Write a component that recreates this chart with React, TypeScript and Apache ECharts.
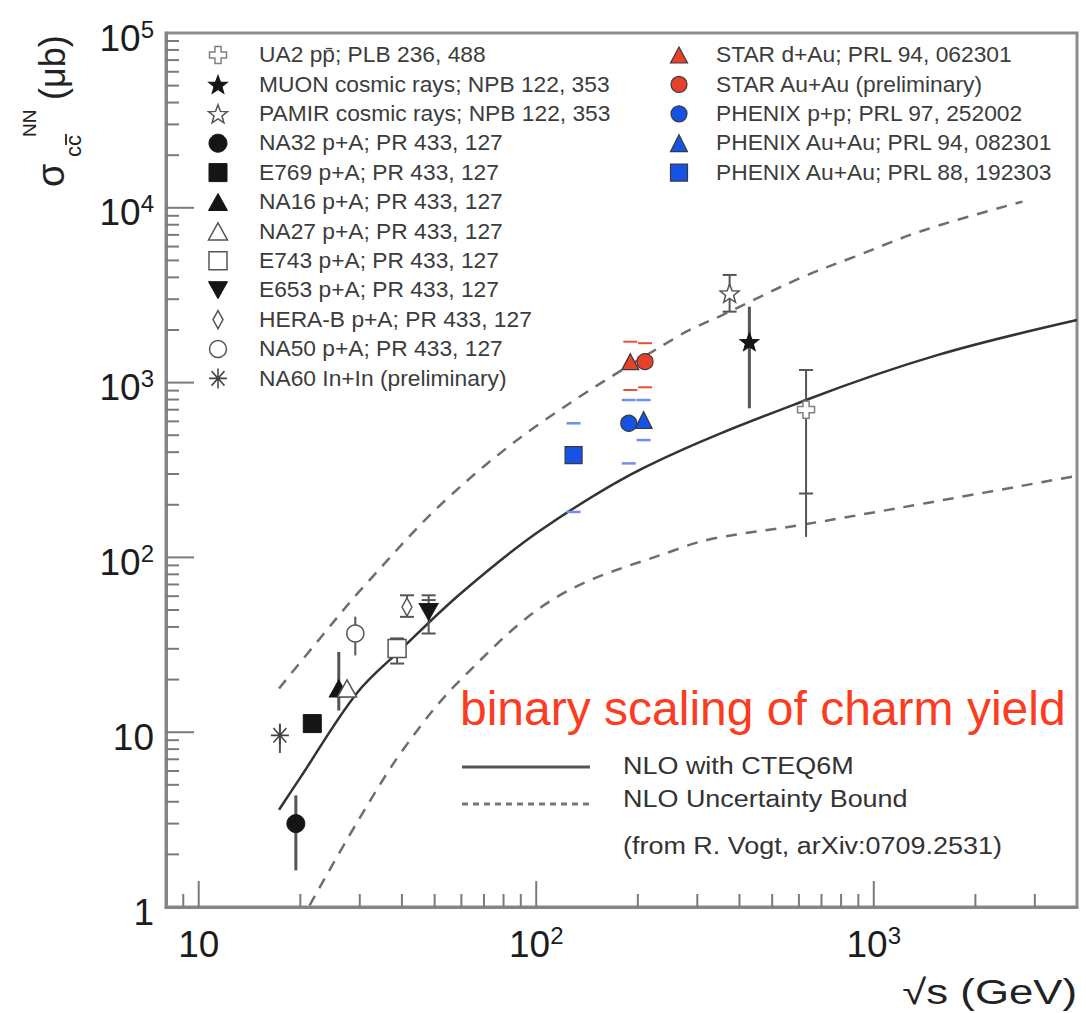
import React, { useEffect, useRef } from 'react';
import * as echarts from 'echarts';

const FONT = '"Liberation Sans", Arial, Helvetica, sans-serif';

// ---- axis ranges and tick positions ----
const xRange = [8, 4000];
const yRange = [1, 100000];
const xMajorTicks = [10, 100, 1000];
const xMinorTicks = [9, 20, 30, 40, 50, 60, 70, 80, 90, 200, 300, 400, 500, 600, 700, 800, 900, 2000, 3000];
const yMajorTicks = [10, 100, 1000, 10000];
const yDecades = [1, 10, 100, 1000, 10000];
const yMantissas = [2, 3, 4, 5, 6, 7, 8, 9];

// ---- NLO calculation (√s in GeV, σ in μb) ----
const nloEnergy = [17.3, 20, 29.4, 39.5, 59.6, 103, 211, 630, 1550, 4000];
const nloCentral = [3.6, 5.5, 16.7, 29.4, 62, 143, 330, 795, 1440, 2280];
const upperEnergy = [17.3, 22.9, 30.8, 54.2, 102.8, 267, 351, 604, 879, 1416, 2758];
const upperBound = [17.8, 34.5, 68, 215, 585, 1872, 2404, 3955, 5260, 7470, 10850];
const lowerEnergy = [21.3, 29.5, 40.6, 59.6, 115, 267, 341, 604, 1439, 4000];
const lowerBound = [1.02, 3.06, 8.1, 19.9, 59.3, 113, 129, 153, 205, 293];

// ---- measurements: [√s, σ] ----
const ua2 = [[630, 700]];
const muon = [[428, 1714]];
const pamir = [[374, 3245]];
const na32 = [[19.4, 3.0]];
const e769 = [[21.7, 11.2]];
const na16 = [[26.0, 17.8]];
const na27 = [[27.5, 17.8]];
const e743 = [[38.7, 30.1]];
const e653 = [[48, 48.8]];
const heraB = [[41.4, 52]];
const na50 = [[29.1, 36.7]];
const na60 = [[17.4, 9.6]];
const starDAu = [[190, 1318]];
const starAuAu = [[210, 1318]];
const phenixPP = [[188, 585]];
const phenixAuAu94 = [[208, 611]];
const phenixAuAu88 = [[129, 385]];

// ---- uncertainties: [√s, low, high] ----
const na32Bar = [[19.4, 1.62, 4.35]];
const na16Bar = [[26.0, 13.3, 28.8]];
const muonBar = [[428, 713, 2718]];
const na60Bar = [[17.4, 7.6, 11.2]];
const na50Bar = [[29.1, 27.5, 45.8]];
const e743Bar = [[38.7, 24.7, 34.4]];
const heraBBar = [[41.4, 45.7, 60.7]];
const e653Bar = [[48, 36.7, 60.7]];
const pamirBar = [[374, 2546, 4130]];
const ua2Bar = [[630, 131, 1181]];

// ---- end markers: [√s, σ] ----
const e743Caps = [[38.7, 24.7], [38.7, 34.4]];
const e653Caps = [[48, 36.7], [48, 57], [48, 60.7]];
const heraBCaps = [[41.4, 45.7], [41.4, 60.7]];
const pamirCaps = [[374, 2546], [374, 4130]];
const ua2Caps = [[630, 232], [630, 1181]];
const starDAuCaps = [[190, 907], [190, 1714]];
const starAuAuCaps = [[210, 940], [210, 1680]];
const phenixPPCaps = [[188, 345], [188, 795]];
const phenixAuAu94Caps = [[208, 469], [208, 795]];
const phenixAuAu88Caps = [[129, 182], [129, 585]];

// ---- legend texts ----
const leftLegendKeys = ['ua2', 'muon', 'pamir', 'na32', 'e769', 'na16', 'na27', 'e743', 'e653', 'heraB', 'na50', 'na60'];
const rightLegendKeys = ['starDAu', 'starAuAu', 'phenixPP', 'phenixAuAu94', 'phenixAuAu88'];
const labels: Record<string, string> = {
  ua2: 'UA2 pp\u0304; PLB 236, 488',
  muon: 'MUON cosmic rays; NPB 122, 353',
  pamir: 'PAMIR cosmic rays; NPB 122, 353',
  na32: 'NA32 p+A; PR 433, 127',
  e769: 'E769 p+A; PR 433, 127',
  na16: 'NA16 p+A; PR 433, 127',
  na27: 'NA27 p+A; PR 433, 127',
  e743: 'E743 p+A; PR 433, 127',
  e653: 'E653 p+A; PR 433, 127',
  heraB: 'HERA-B p+A; PR 433, 127',
  na50: 'NA50 p+A; PR 433, 127',
  na60: 'NA60 In+In (preliminary)',
  starDAu: 'STAR d+Au; PRL 94, 062301',
  starAuAu: 'STAR Au+Au (preliminary)',
  phenixPP: 'PHENIX p+p; PRL 97, 252002',
  phenixAuAu94: 'PHENIX Au+Au; PRL 94, 082301',
  phenixAuAu88: 'PHENIX Au+Au; PRL 88, 192303',
};
const points: Record<string, number[][]> = {
  ua2, muon, pamir, na32, e769, na16, na27, e743, e653, heraB, na50, na60,
  starDAu, starAuAu, phenixPP, phenixAuAu94, phenixAuAu88,
};

// ---- marker shapes ----
const STAR_D = (() => {
  const pts: number[][] = [];
  for (let k = 0; k < 10; k++) {
    const a = -Math.PI / 2 + (k * Math.PI) / 5;
    const r = k % 2 === 0 ? 1 : 0.42;
    pts.push([Math.cos(a) * r, Math.sin(a) * r]);
  }
  const xs = pts.map((p) => p[0]);
  const ys = pts.map((p) => p[1]);
  const x0 = Math.min(...xs), x1 = Math.max(...xs), y0 = Math.min(...ys), y1 = Math.max(...ys);
  return (
    pts
      .map((p, i) => `${i ? 'L' : 'M'}${(((p[0] - x0) / (x1 - x0)) * 100).toFixed(2)} ${(((p[1] - y0) / (y1 - y0)) * 100).toFixed(2)}`)
      .join(' ') + ' Z'
  );
})();
const PLUS_D = 'M32 0 L68 0 L68 32 L100 32 L100 68 L68 68 L68 100 L32 100 L32 68 L0 68 L0 32 L32 32 Z';
const AST_D = 'M50 0 L50 100 M0 50 L100 50 M14 14 L86 86 M86 14 L14 86';
const TRI_DOWN_D = 'M0 0 L100 0 L50 100 Z';

echarts.graphic.registerShape('mkStar', echarts.graphic.extendPath(STAR_D, {}));
echarts.graphic.registerShape('mkPlus', echarts.graphic.extendPath(PLUS_D, {}));
echarts.graphic.registerShape('mkAst', echarts.graphic.extendPath(AST_D, {}));

type Kind = 'circle' | 'rect' | 'triangle' | 'triDown' | 'diamond' | 'star' | 'plus' | 'asterisk';
interface Marker { kind: Kind; w: number; h: number; fill: string; stroke: string; lw: number }

const RED = '#e8412a';
const BLUE = '#1652e6';
const INK = '#151515';
const OPEN = '#ffffff';
const EDGE = '#3a3a3a';

const markers: Record<string, Marker> = {
  ua2: { kind: 'plus', w: 17, h: 17, fill: OPEN, stroke: '#808080', lw: 1.5 },
  muon: { kind: 'star', w: 19, h: 18, fill: INK, stroke: INK, lw: 1 },
  pamir: { kind: 'star', w: 19, h: 18, fill: OPEN, stroke: '#555', lw: 1.5 },
  na32: { kind: 'circle', w: 18, h: 18, fill: INK, stroke: INK, lw: 1 },
  e769: { kind: 'rect', w: 18, h: 18, fill: INK, stroke: INK, lw: 1 },
  na16: { kind: 'triangle', w: 19, h: 17, fill: INK, stroke: INK, lw: 1 },
  na27: { kind: 'triangle', w: 19, h: 17, fill: OPEN, stroke: '#555', lw: 1.5 },
  e743: { kind: 'rect', w: 18, h: 18, fill: OPEN, stroke: '#555', lw: 1.5 },
  e653: { kind: 'triDown', w: 19, h: 17, fill: INK, stroke: INK, lw: 1 },
  heraB: { kind: 'diamond', w: 10, h: 18, fill: OPEN, stroke: '#555', lw: 1.5 },
  na50: { kind: 'circle', w: 17, h: 17, fill: OPEN, stroke: '#555', lw: 1.5 },
  na60: { kind: 'asterisk', w: 18, h: 20, fill: 'rgba(0,0,0,0)', stroke: '#444', lw: 1.6 },
  starDAu: { kind: 'triangle', w: 17, h: 16, fill: RED, stroke: EDGE, lw: 1.2 },
  starAuAu: { kind: 'circle', w: 16, h: 16, fill: RED, stroke: EDGE, lw: 1.2 },
  phenixPP: { kind: 'circle', w: 16, h: 16, fill: BLUE, stroke: EDGE, lw: 1.2 },
  phenixAuAu94: { kind: 'triangle', w: 17, h: 17, fill: BLUE, stroke: EDGE, lw: 1.2 },
  phenixAuAu88: { kind: 'rect', w: 17, h: 17, fill: BLUE, stroke: EDGE, lw: 1.2 },
};

const SYMBOL: Record<Kind, string> = {
  circle: 'circle',
  rect: 'rect',
  triangle: 'triangle',
  diamond: 'diamond',
  triDown: 'path://' + TRI_DOWN_D,
  star: 'path://' + STAR_D,
  plus: 'path://' + PLUS_D,
  asterisk: 'path://' + AST_D,
};

function legendSymbol(m: Marker, cx: number, cy: number): any {
  const { w, h } = m;
  const style: any = { fill: m.fill, stroke: m.stroke, lineWidth: m.lw };
  switch (m.kind) {
    case 'circle':
      return { type: 'ellipse', shape: { cx, cy, rx: w / 2, ry: h / 2 }, style };
    case 'rect':
      return { type: 'rect', shape: { x: cx - w / 2, y: cy - h / 2, width: w, height: h }, style };
    case 'triangle':
      return { type: 'polygon', shape: { points: [[cx, cy - h / 2], [cx + w / 2, cy + h / 2], [cx - w / 2, cy + h / 2]] }, style };
    case 'triDown':
      return { type: 'polygon', shape: { points: [[cx - w / 2, cy - h / 2], [cx + w / 2, cy - h / 2], [cx, cy + h / 2]] }, style };
    case 'diamond':
      return { type: 'polygon', shape: { points: [[cx, cy - h / 2], [cx + w / 2, cy], [cx, cy + h / 2], [cx - w / 2, cy]] }, style };
    default: {
      const type = m.kind === 'star' ? 'mkStar' : m.kind === 'plus' ? 'mkPlus' : 'mkAst';
      return {
        type,
        x: cx - w / 2,
        y: cy - h / 2,
        scaleX: w / 100,
        scaleY: h / 100,
        style: { ...style, strokeNoScale: true },
      };
    }
  }
}

// "10", "10²" ... with a raised exponent
function powerLabel(v: number): string {
  const e = Math.log10(v);
  const n = Math.round(e);
  if (Math.abs(e - n) > 1e-6) return '';
  if (n === 0) return '{b|1}';
  if (n === 1) return '{b|10}';
  return `{b|10}{s|${n}}`;
}

const labelRich = {
  b: { fontSize: 37, lineHeight: 52, padding: [10, 0, 0, 0], fontFamily: FONT, color: '#1c1c1c' },
  s: { fontSize: 24, lineHeight: 24, padding: [10, 0, 0, 0], verticalAlign: 'top', fontFamily: FONT, color: '#1c1c1c' },
};

function barSeries(data: number[][], color: string, width: number): any {
  return {
    type: 'custom',
    coordinateSystem: 'cartesian2d',
    silent: true,
    z: 2,
    data,
    encode: { x: 0, y: [1, 2] },
    renderItem: (_p: any, api: any) => {
      const x = api.value(0);
      const a = api.coord([x, api.value(1)]);
      const b = api.coord([x, api.value(2)]);
      return {
        type: 'line',
        shape: { x1: a[0], y1: a[1], x2: b[0], y2: b[1] },
        style: { stroke: color, lineWidth: width },
      };
    },
  };
}

function capSeries(data: number[][], color: string, width: number, half: number): any {
  return {
    type: 'custom',
    coordinateSystem: 'cartesian2d',
    silent: true,
    z: 2,
    data,
    encode: { x: 0, y: 1 },
    renderItem: (_p: any, api: any) => {
      const p = api.coord([api.value(0), api.value(1)]);
      return {
        type: 'line',
        shape: { x1: p[0] - half, y1: p[1], x2: p[0] + half, y2: p[1] },
        style: { stroke: color, lineWidth: width },
      };
    },
  };
}

function tickSeries(data: number[][], vertical: boolean): any {
  return {
    type: 'custom',
    coordinateSystem: 'cartesian2d',
    silent: true,
    z: 6,
    data,
    encode: { x: 0, y: 1 },
    renderItem: (_p: any, api: any) => {
      const p = api.coord([api.value(0), api.value(1)]);
      const len = api.value(2);
      const shape = vertical
        ? { x1: p[0], y1: p[1], x2: p[0], y2: p[1] - len }
        : { x1: p[0], y1: p[1], x2: p[0] + len, y2: p[1] };
      return { type: 'line', shape, style: { stroke: '#7a7a7a', lineWidth: 2 } };
    },
  };
}

function buildOption(): any {
  const pairs = (xs: number[], ys: number[]) => xs.map((x, i) => [x, ys[i]]);
  const yMinorTicks = yDecades.flatMap((d) => yMantissas.map((m) => m * d));

  const xTickData = [
    ...xMajorTicks.map((v) => [v, yRange[0], 26]),
    ...xMinorTicks.map((v) => [v, yRange[0], 13]),
  ];
  const yTickData = [
    ...yMajorTicks.map((v) => [xRange[0], v, 28]),
    ...yMinorTicks.map((v) => [xRange[0], v, 13]),
  ];

  const scatter = Object.keys(points).map((key) => {
    const m = markers[key];
    return {
      name: labels[key],
      type: 'scatter',
      silent: true,
      z: 4,
      data: points[key],
      symbol: SYMBOL[m.kind],
      symbolSize: [m.w, m.h],
      itemStyle: { color: m.fill, borderColor: m.stroke, borderWidth: m.lw, opacity: 1 },
    };
  });

  const legendText = (text: string, x: number, y: number) => ({
    type: 'text',
    x,
    y,
    scaleX: 1.06,
    style: { text, fontSize: 21.5, fontFamily: FONT, fill: '#3c3c3c', align: 'left', verticalAlign: 'middle' },
  });

  const rowY = (i: number) => 55 + 29.4 * i;
  const legendElems: any[] = [];
  leftLegendKeys.forEach((k, i) => {
    legendElems.push(legendSymbol(markers[k], 218, rowY(i)));
    legendElems.push(legendText(labels[k], 259, rowY(i)));
  });
  rightLegendKeys.forEach((k, i) => {
    legendElems.push(legendSymbol(markers[k], 679, rowY(i)));
    legendElems.push(legendText(labels[k], 716, rowY(i)));
  });

  const noteText = (text: string, y: number) => ({
    type: 'text',
    x: 623,
    y,
    scaleX: 1.1,
    style: { text, fontSize: 24.5, fontFamily: FONT, fill: '#333', align: 'left', verticalAlign: 'middle' },
  });

  const yTitle = {
    type: 'group',
    x: 54,
    y: 190,
    rotation: Math.PI / 2,
    children: [
      { type: 'text', x: 3, y: -3, style: { text: 'σ', fontSize: 38, fontFamily: FONT, fill: '#222', align: 'left', verticalAlign: 'middle' } },
      { type: 'text', x: 33, y: 19, style: { text: 'cc', fontSize: 22, fontFamily: FONT, fill: '#222', align: 'left', verticalAlign: 'middle' } },
      { type: 'line', shape: { x1: 45, y1: 12, x2: 56, y2: 12 }, style: { stroke: '#222', lineWidth: 1.8 } },
      { type: 'text', x: 53, y: -25, style: { text: 'NN', fontSize: 19, fontFamily: FONT, fill: '#222', align: 'left', verticalAlign: 'middle' } },
      { type: 'text', x: 90, y: -2, style: { text: '(μb)', fontSize: 36, fontFamily: FONT, fill: '#222', align: 'left', verticalAlign: 'middle' } },
    ],
  };

  return {
    animation: false,
    backgroundColor: '#ffffff',
    textStyle: { fontFamily: FONT },
    grid: {
      left: 166,
      top: 33,
      width: 911,
      height: 874,
      show: true,
      borderColor: '#8c8c8c',
      borderWidth: 3,
      backgroundColor: 'rgba(0,0,0,0)',
    },
    xAxis: {
      type: 'log',
      logBase: 10,
      min: xRange[0],
      max: xRange[1],
      axisLine: { show: true, lineStyle: { color: '#858585', width: 3 } },
      axisTick: { show: false },
      splitLine: { show: false },
      minorTick: { show: false },
      axisLabel: { formatter: powerLabel, rich: labelRich, margin: 6 },
    },
    yAxis: {
      type: 'log',
      logBase: 10,
      min: yRange[0],
      max: yRange[1],
      axisLine: { show: true, lineStyle: { color: '#858585', width: 3 } },
      axisTick: { show: false },
      splitLine: { show: false },
      minorTick: { show: false },
      axisLabel: { formatter: powerLabel, rich: labelRich, margin: 12 },
    },
    series: [
      {
        name: 'NLO Uncertainty Bound (upper)',
        type: 'line',
        data: pairs(upperEnergy, upperBound),
        showSymbol: false,
        smooth: 0.35,
        silent: true,
        z: 1,
        lineStyle: { color: '#6e6e6e', width: 2.5, type: [11, 9] },
      },
      {
        name: 'NLO with CTEQ6M',
        type: 'line',
        data: pairs(nloEnergy, nloCentral),
        showSymbol: false,
        smooth: 0.35,
        silent: true,
        z: 1,
        lineStyle: { color: '#333', width: 2.5 },
      },
      {
        name: 'NLO Uncertainty Bound (lower)',
        type: 'line',
        data: pairs(lowerEnergy, lowerBound),
        showSymbol: false,
        smooth: 0.35,
        silent: true,
        z: 1,
        lineStyle: { color: '#6e6e6e', width: 2.5, type: [11, 9] },
      },
      barSeries([...na32Bar, ...na16Bar, ...muonBar], '#555', 3),
      barSeries([...na60Bar, ...na50Bar, ...e743Bar, ...heraBBar, ...e653Bar, ...pamirBar, ...ua2Bar], '#555', 2),
      capSeries([...e743Caps, ...e653Caps, ...heraBCaps, ...pamirCaps, ...ua2Caps], '#555', 2, 7),
      capSeries([...starDAuCaps, ...starAuAuCaps], '#e8503a', 2, 7),
      capSeries([...phenixPPCaps, ...phenixAuAu94Caps, ...phenixAuAu88Caps], '#6f8fee', 2.5, 7),
      ...scatter,
      tickSeries(xTickData, true),
      tickSeries(yTickData, false),
    ],
    graphic: {
      elements: [
        yTitle,
        {
          type: 'text',
          x: 1077,
          y: 992,
          scaleX: 1.25,
          style: { text: '√s (GeV)', fontSize: 35, fontFamily: FONT, fill: '#222', align: 'right', verticalAlign: 'middle' },
        },
        {
          type: 'text',
          x: 460,
          y: 708,
          style: { text: 'binary scaling of charm yield', fontSize: 48, fontFamily: FONT, fill: '#fb3c1e', align: 'left', verticalAlign: 'middle' },
        },
        { type: 'line', shape: { x1: 462, y1: 767, x2: 590, y2: 767 }, style: { stroke: '#555', lineWidth: 3 } },
        { type: 'line', shape: { x1: 462, y1: 804, x2: 590, y2: 804 }, style: { stroke: '#777', lineWidth: 3, lineDash: [6, 5] } },
        noteText('NLO with CTEQ6M', 765),
        noteText('NLO Uncertainty Bound', 798),
        noteText('(from R. Vogt, arXiv:0709.2531)', 845),
        ...legendElems,
      ],
    },
  };
}

export default function App() {
  const ref = useRef<HTMLDivElement>(null);
  useEffect(() => {
    const chart = echarts.init(ref.current as HTMLDivElement, null, { renderer: 'svg' });
    chart.setOption(buildOption());
    return () => chart.dispose();
  }, []);
  return (
    <div
      ref={ref}
      style={{ position: 'absolute', left: 0, top: 0, width: 1086, height: 1013, background: '#ffffff' }}
    />
  );
}
